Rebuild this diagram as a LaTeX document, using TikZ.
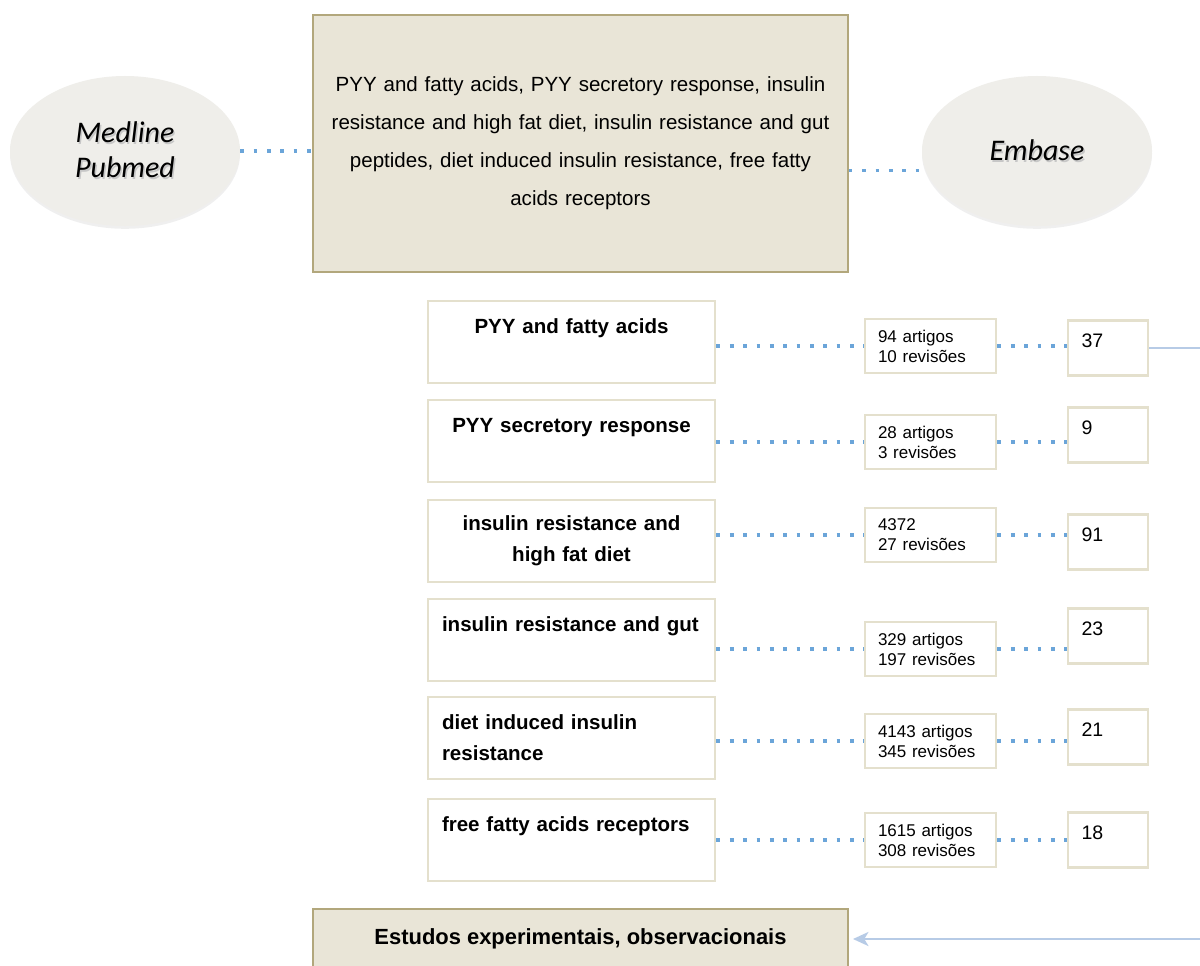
\documentclass[tikz,border=0pt]{standalone}
\usepackage{fontspec}
\setmainfont{Liberation Sans}
\newfontfamily\ovalfont{Carlito}
\usetikzlibrary{arrows.meta,shapes.geometric,shadows}

\definecolor{searchfill}{HTML}{E9E5D7}
\definecolor{searchline}{HTML}{B2A77C}
\definecolor{paleline}{HTML}{E4E0CD}
\definecolor{dotblue}{HTML}{5B9BD5}
\definecolor{feedblue}{HTML}{B7CBE6}
\definecolor{ovalfill}{HTML}{EFEEEA}

\newcommand{\pxu}{0.025cm}
\newcommand{\shadowed}[1]{\leavevmode\rlap{\hspace{1pt}\raisebox{-1.6pt}{\color{black!22}#1}}#1}

\tikzset{
  base/.style={draw=searchline, line width=1.1pt, fill=searchfill, inner sep=0pt,
    minimum width=535*\pxu},
  oval/.style={ellipse, fill=ovalfill, inner sep=0pt, minimum width=230*\pxu,
    minimum height=150*\pxu, align=center,
    drop shadow={opacity=0.12, shadow xshift=0pt, shadow yshift=-2pt},
    font=\ovalfont\itshape\fontsize{21.3}{25}\selectfont},
  topic/.style={draw=paleline, line width=2.1pt, fill=white, inner sep=0pt,
    minimum width=287*\pxu, minimum height=82*\pxu, text width=259*\pxu,
    font=\bfseries\fontsize{14.6}{22}\selectfont},
  hits/.style={draw=paleline, line width=2.1pt, fill=white, inner sep=0pt,
    minimum width=131*\pxu, minimum height=54*\pxu, text width=105*\pxu,
    align=left, font=\fontsize{12.1}{14.2}\selectfont},
  kept/.style={draw=paleline, line width=2.1pt, fill=white, inner sep=0pt,
    minimum width=80*\pxu, minimum height=55*\pxu, text width=53*\pxu,
    align=left, text depth=10pt, font=\fontsize{13.9}{16}\selectfont},
  dots/.style={dotblue!90, line width=2.6pt, dash pattern=on 2.6pt off 6.9pt},
  feed/.style={feedblue, line width=1.5pt, shorten >=3pt,
    -{Stealth[length=11pt,width=10pt,inset=3pt]}}
}

\begin{document}
\begin{tikzpicture}[x=\pxu, y=-\pxu]
\fill[white] (0,0) rectangle (1200,965);
\useasboundingbox (0,0) rectangle (1200,965);

% search terms and databases
\node[base, minimum height=257*\pxu, text width=520*\pxu, align=center,
  font=\fontsize{14.6}{27}\selectfont] (terms) at (580.5,143.5)
  {PYY and fatty acids, PYY secretory response, insulin\\
   resistance and high fat diet, insulin resistance and gut\\
   peptides, diet induced insulin resistance, free fatty\\
   acids receptors};
\node[oval] (medline) at (125,151) {\shadowed{Medline}\\\shadowed{Pubmed}};
\node[oval] (embase) at (1037,151) {\shadowed{Embase}};
\draw[dots] (medline.east) -- (medline.east -| terms.west);
\draw[dots] (embase.190 -| terms.east) -- (embase.190);

% one row per search term
\node[topic, align=center] (topic1) at (571.5,342) {PYY and fatty acids\\\mbox{}};
\node[topic, align=center] (topic2) at (571.5,441) {PYY secretory response\\\mbox{}};
\node[topic, align=center] (topic3) at (571.5,541) {insulin resistance and\\high fat diet};
\node[topic, align=left] (topic4) at (571.5,640) {insulin resistance and gut\\\mbox{}};
\node[topic, align=left] (topic5) at (571.5,738) {diet induced insulin\\resistance};
\node[topic, align=left] (topic6) at (571.5,840) {free fatty acids receptors\\\mbox{}};

\node[hits] (hits1) at (930.5,346) {94 artigos\\10 revisões};
\node[hits] (hits2) at (930.5,442) {28 artigos\\3 revisões};
\node[hits] (hits3) at (930.5,535) {4372\\27 revisões};
\node[hits] (hits4) at (930.5,649) {329 artigos\\197 revisões};
\node[hits] (hits5) at (930.5,741) {4143 artigos\\345 revisões};
\node[hits] (hits6) at (930.5,840) {1615 artigos\\308 revisões};

\node[kept] (kept1) at (1108,348) {37};
\node[kept] (kept2) at (1108,435) {9};
\node[kept] (kept3) at (1108,542) {91};
\node[kept] (kept4) at (1108,636) {23};
\node[kept] (kept5) at (1108,737) {21};
\node[kept] (kept6) at (1108,840) {18};

\draw[dots] (hits1.west -| topic1.east) -- (hits1.west);
\draw[dots] (hits2.west -| topic2.east) -- (hits2.west);
\draw[dots] (hits3.west -| topic3.east) -- (hits3.west);
\draw[dots] (hits4.west -| topic4.east) -- (hits4.west);
\draw[dots] (hits5.west -| topic5.east) -- (hits5.west);
\draw[dots] (hits6.west -| topic6.east) -- (hits6.west);
\draw[dots] (hits1.east) -- (hits1.east -| kept1.west);
\draw[dots] (hits2.east) -- (hits2.east -| kept2.west);
\draw[dots] (hits3.east) -- (hits3.east -| kept3.west);
\draw[dots] (hits4.east) -- (hits4.east -| kept4.west);
\draw[dots] (hits5.east) -- (hits5.east -| kept5.west);
\draw[dots] (hits6.east) -- (hits6.east -| kept6.west);

% selected studies
\node[base, minimum height=60*\pxu, font=\bfseries\fontsize{15.6}{18}\selectfont]
  (studies) at (580.5,939) {Estudos experimentais, observacionais};
\draw[feed] (kept1.east) -- ++(67,0) |- (studies.east);
\end{tikzpicture}
\end{document}
